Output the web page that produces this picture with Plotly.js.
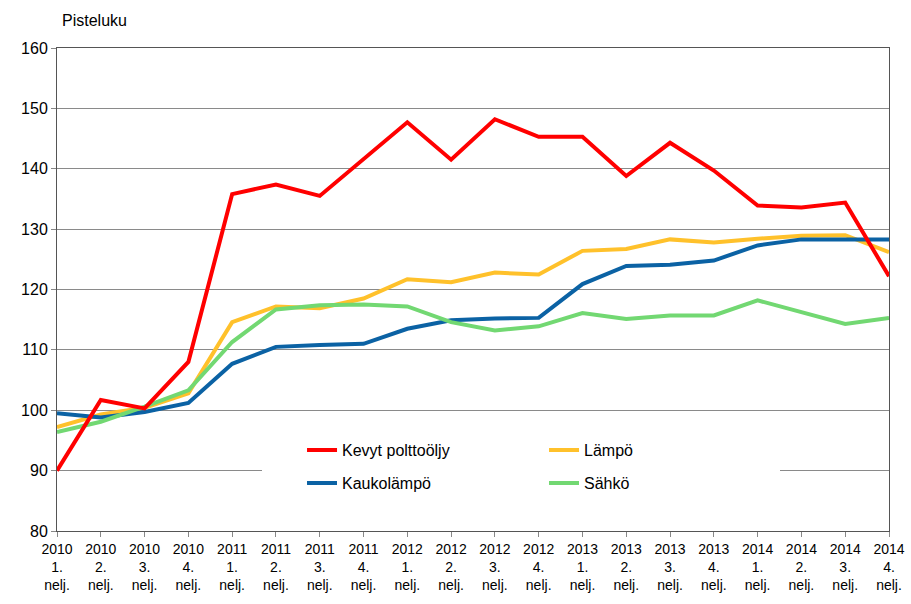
<!DOCTYPE html>
<html>
<head>
<meta charset="utf-8">
<script src="https://cdn.plot.ly/plotly-3.0.1.min.js"></script>
<style>html,body{margin:0;padding:0;background:#fff;}#chart{width:911px;height:604px;}</style>
</head>
<body>
<div id="chart"></div>
<script>
const categories = [
  "2010<br>1.<br>nelj.","2010<br>2.<br>nelj.","2010<br>3.<br>nelj.","2010<br>4.<br>nelj.",
  "2011<br>1.<br>nelj.","2011<br>2.<br>nelj.","2011<br>3.<br>nelj.","2011<br>4.<br>nelj.",
  "2012<br>1.<br>nelj.","2012<br>2.<br>nelj.","2012<br>3.<br>nelj.","2012<br>4.<br>nelj.",
  "2013<br>1.<br>nelj.","2013<br>2.<br>nelj.","2013<br>3.<br>nelj.","2013<br>4.<br>nelj.",
  "2014<br>1.<br>nelj.","2014<br>2.<br>nelj.","2014<br>3.<br>nelj.","2014<br>4.<br>nelj."
];
const kevytPolttooljy = [90.0,101.7,100.3,108.0,135.8,137.4,135.5,141.5,147.7,141.5,148.2,145.3,145.3,138.8,144.3,139.7,133.9,133.6,134.4,122.2];
const lampo          = [97.2,99.3,100.4,102.8,114.6,117.2,116.9,118.5,121.7,121.2,122.8,122.5,126.4,126.7,128.3,127.8,128.4,128.9,129.0,126.2];
const kaukolampo     = [99.5,98.8,99.7,101.2,107.7,110.5,110.8,111.0,113.5,114.9,115.2,115.3,120.9,123.9,124.1,124.8,127.3,128.3,128.3,128.3];
const sahko          = [96.4,98.1,100.6,103.3,111.3,116.7,117.4,117.5,117.2,114.6,113.2,113.9,116.1,115.1,115.7,115.7,118.2,116.3,114.3,115.3];
const yTicks = [80,90,100,110,120,130,140,150,160];

const font = 'Arial, "Liberation Sans", sans-serif';
const traces = [
  {name:'Lämpö', y:lampo, color:'#FFC12B', legend:'legend', rank:2},
  {name:'Kaukolämpö', y:kaukolampo, color:'#0B62A4', legend:'legend2', rank:1},
  {name:'Sähkö', y:sahko, color:'#72D872', legend:'legend2', rank:2},
  {name:'Kevyt polttoöljy', y:kevytPolttooljy, color:'#FF0000', legend:'legend', rank:1}
].map(t => ({
  type:'scatter', mode:'lines', x:categories, y:t.y, name:t.name,
  line:{color:t.color, width:4}, legend:t.legend, legendrank:t.rank
}));

const legendCommon = {
  orientation:'h', bgcolor:'rgba(0,0,0,0)', borderwidth:0,
  font:{family:font, size:16, color:'#000'},
  entrywidth:197, entrywidthmode:'pixels',
  xanchor:'left', yanchor:'middle', x:0.2945
};

const layout = {
  width:911, height:604,
  margin:{l:57, r:22, t:48, b:73},
  paper_bgcolor:'#fff', plot_bgcolor:'#fff',
  showlegend:true,
  legend: Object.assign({}, legendCommon, {y:0.1674}),
  legend2: Object.assign({}, legendCommon, {y:0.0992}),
  xaxis:{
    type:'category', range:[0, categories.length-1],
    showgrid:false, showline:true, linecolor:'#555', linewidth:1, mirror:true,
    ticks:'outside', ticklen:5, tickcolor:'#888',
    tickfont:{family:font, size:14, color:'#000'},
    tickangle:0, fixedrange:true
  },
  yaxis:{
    range:[80,160], tickvals:yTicks, ticktext:yTicks.map(String),
    showgrid:true, gridcolor:'#8a8a8a', gridwidth:1,
    showline:true, linecolor:'#555', linewidth:1, mirror:true,
    ticks:'outside', ticklen:5, tickcolor:'#888',
    tickfont:{family:font, size:16, color:'#000'},
    zeroline:false
  },
  shapes:[{
    type:'rect', layer:'above', xref:'paper', yref:'y',
    x0:(262-57)/832, x1:(780-57)/832, y0:84.5, y1:98,
    fillcolor:'#fff', line:{width:0}
  }],
  annotations:[{
    text:'Pisteluku', xref:'paper', yref:'paper', x:0.004, y:1.056,
    xanchor:'left', yanchor:'middle', showarrow:false,
    font:{family:font, size:16, color:'#000'}
  }]
};

Plotly.newPlot('chart', traces, layout, {staticPlot:true, displayModeBar:false});
</script>
</body>
</html>
